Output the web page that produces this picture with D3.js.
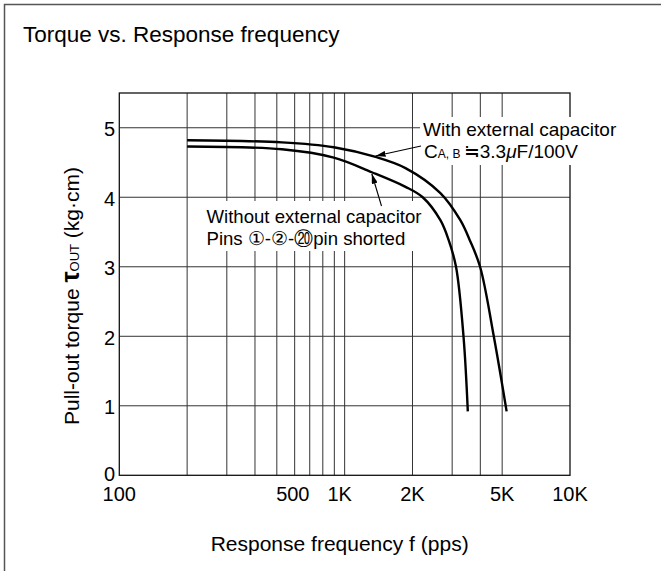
<!DOCTYPE html>
<html>
<head>
<meta charset="utf-8">
<script src="https://cdn.jsdelivr.net/npm/d3@7"></script>
<style>
  body { margin: 0; background: #fff; }
  svg { display: block; }
  text { font-family: "Liberation Sans", Arial, Helvetica, sans-serif; fill: #000; }
</style>
</head>
<body>
<svg id="chart" width="661" height="571"></svg>
<script>
// grid / ticks
const freqGrid = [200, 300, 400, 500, 600, 700, 800, 900, 1000, 2000, 3000, 4000, 5000];
const freqTicks = [100, 500, 1000, 2000, 5000, 10000];
const freqTickLabels = ['100', '500', '1K', '2K', '5K', '10K'];
const torqueTicks = [0, 1, 2, 3, 4, 5];

// curves (pps, kg·cm)
const withCapFreq = [200, 527, 895, 1372, 1862, 2660, 3261, 3583, 3990, 4596, 5233];
const withCapTorque = [4.82, 4.79, 4.72, 4.58, 4.42, 4.06, 3.67, 3.39, 3.0, 1.99, 0.92];
const withoutCapFreq = [200, 527, 895, 1320, 1862, 2220, 2660, 2890, 3120, 3370, 3520];
const withoutCapTorque = [4.73, 4.69, 4.57, 4.36, 4.15, 4.0, 3.67, 3.39, 3.0, 1.99, 0.92];

const svg = d3.select('#chart');
const plotL = 119.3, plotR = 570, plotT = 93, plotB = 475.3;

const x = d3.scaleLog().domain([100, 10000]).range([plotL, plotR]);
const y = d3.scaleLinear().domain([0, 5.5]).range([plotB, plotT]);

// outer frame (cropped by the picture)
svg.append('rect')
  .attr('x', 4.5).attr('y', 4.5).attr('width', 720).attr('height', 720)
  .attr('fill', 'none').attr('stroke', '#555').attr('stroke-width', 1.5);

svg.append('text')
  .attr('x', 23).attr('y', 41.5)
  .attr('font-size', '22.5px')
  .text('Torque vs. Response frequency');

// grid
const grid = svg.append('g').attr('stroke', '#333').attr('stroke-width', 1);
grid.selectAll('.vg').data(freqGrid).enter().append('line')
  .attr('x1', d => x(d)).attr('x2', d => x(d))
  .attr('y1', plotT).attr('y2', plotB);
grid.selectAll('.hg').data(torqueTicks.filter(d => d > 0)).enter().append('line')
  .attr('x1', plotL).attr('x2', plotR)
  .attr('y1', d => y(d)).attr('y2', d => y(d));

svg.append('rect')
  .attr('x', plotL).attr('y', plotT)
  .attr('width', plotR - plotL).attr('height', plotB - plotT)
  .attr('fill', 'none').attr('stroke', '#111').attr('stroke-width', 1.3);

// tick labels ("0" sits just above "100", as in the original)
svg.selectAll('.yl').data(torqueTicks).enter().append('text')
  .attr('x', 115).attr('y', d => y(d) + (d === 0 ? -1 : 1.5))
  .attr('dy', '0.35em')
  .attr('text-anchor', 'end')
  .attr('font-size', '20px')
  .text(d => d);

const labelNudge = { 500: 16, 1000: -5 };
svg.selectAll('.xl').data(freqTicks).enter().append('text')
  .attr('x', d => x(d) + (labelNudge[d] || 0))
  .attr('y', 501)
  .attr('text-anchor', 'middle')
  .attr('font-size', '20px')
  .text((d, i) => freqTickLabels[i]);

// axis titles
svg.append('text')
  .attr('x', (plotL + plotR) / 2 - 5).attr('y', 551)
  .attr('text-anchor', 'middle')
  .attr('font-size', '21px')
  .text('Response frequency f (pps)');

const yt = svg.append('text')
  .attr('transform', 'translate(79,296) rotate(-90)')
  .attr('text-anchor', 'middle')
  .attr('font-size', '21px');
yt.append('tspan').text('Pull-out torque ');
yt.append('tspan').attr('font-size', '25px').attr('font-weight', 'bold').text('τ');
yt.append('tspan').attr('font-size', '13px').text('OUT');
yt.append('tspan').text(' (kg·cm)');

// curves
const line = d3.line().x(d => x(d[0])).y(d => y(d[1])).curve(d3.curveCatmullRom.alpha(0.5));
const curves = [
  withCapFreq.map((f, i) => [f, withCapTorque[i]]),
  withoutCapFreq.map((f, i) => [f, withoutCapTorque[i]])
];
svg.selectAll('.curve').data(curves).enter().append('path')
  .attr('d', line)
  .attr('fill', 'none')
  .attr('stroke', '#000')
  .attr('stroke-width', 2.4);

// annotation backgrounds
svg.append('rect').attr('x', 420).attr('y', 117).attr('width', 200).attr('height', 48).attr('fill', '#fff');
svg.append('rect').attr('x', 201).attr('y', 201).attr('width', 223).attr('height', 50).attr('fill', '#fff');

svg.append('text').attr('x', 423).attr('y', 135.5).attr('font-size', '19px').text('With external capacitor');
const t2 = svg.append('text').attr('x', 424).attr('y', 157.5).attr('font-size', '19px');
t2.append('tspan').text('C');
t2.append('tspan').attr('font-size', '12px').text('A, B ');
t2.append('tspan').text('≒3.3');
t2.append('tspan').attr('font-style', 'italic').text('μ');
t2.append('tspan').text('F/100V');

svg.append('text').attr('x', 206.5).attr('y', 222.5).attr('font-size', '18.6px').text('Without external capacitor');
svg.append('text').attr('x', 206.5).attr('y', 245).attr('font-size', '18.6px').text('Pins ①-②-⑳pin shorted');

// arrows
svg.append('defs').append('marker')
  .attr('id', 'ah').attr('viewBox', '0 0 10 6')
  .attr('refX', 10).attr('refY', 3)
  .attr('markerWidth', 10).attr('markerHeight', 6)
  .attr('markerUnits', 'userSpaceOnUse')
  .attr('orient', 'auto')
  .append('path').attr('d', 'M0,0L10,3L0,6Z').attr('fill', '#000');

const arrows = [
  { from: [421, 146], to: [x(1372), y(4.58) - 1] },
  { from: [381.5, 206], to: [x(1320), y(4.36) + 1.5] }
];
svg.selectAll('.arrow').data(arrows).enter().append('line')
  .attr('x1', d => d.from[0]).attr('y1', d => d.from[1])
  .attr('x2', d => d.to[0]).attr('y2', d => d.to[1])
  .attr('stroke', '#000').attr('stroke-width', 1.1)
  .attr('marker-end', 'url(#ah)');
</script>
</body>
</html>
